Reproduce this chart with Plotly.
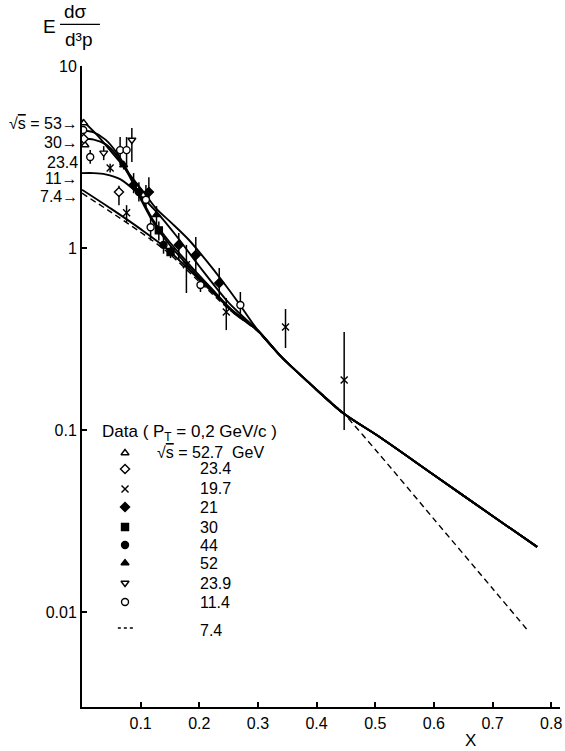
import plotly.graph_objects as go

# ---------------- theoretical curves ----------------
# common large-x tail shared by the solid curves
x_tail = [0.34, 0.39, 0.445, 0.51, 0.6, 0.7, 0.776]
y_tail = [0.252, 0.178, 0.124, 0.0904, 0.0566, 0.0337, 0.0228]

x_c53 = [0, 0.0255, 0.0476, 0.0646, 0.0816, 0.105, 0.127, 0.153, 0.182, 0.211, 0.238, 0.267, 0.297]
y_c53 = [5.05, 4.18, 3.45, 2.97, 2.52, 2.03, 1.64, 1.37, 1.11, 0.86, 0.667, 0.499, 0.363]

x_c30 = [0, 0.02, 0.04, 0.06, 0.08, 0.1, 0.12, 0.15, 0.18, 0.22, 0.26, 0.3]
y_c30 = [4.42, 4.32, 3.94, 3.31, 2.57, 1.905, 1.445, 1.072, 0.832, 0.603, 0.442, 0.351]

x_c234 = [0, 0.02, 0.04, 0.06, 0.08, 0.1, 0.12, 0.15, 0.18, 0.22, 0.26, 0.3]
y_c234 = [3.98, 3.94, 3.72, 3.2, 2.51, 1.86, 1.413, 1.035, 0.804, 0.589, 0.437, 0.351]

x_c11 = [0, 0.02, 0.04, 0.065, 0.093, 0.127, 0.16, 0.2, 0.25, 0.3]
y_c11 = [2.58, 2.58, 2.54, 2.39, 2.03, 1.58, 1.175, 0.794, 0.501, 0.351]

x_c74 = [0, 0.05, 0.1, 0.143, 0.2, 0.25, 0.3]
y_c74 = [2.09, 1.64, 1.27, 1.0, 0.671, 0.473, 0.351]

x_c74d = [0, 0.05, 0.1, 0.143, 0.2, 0.25, 0.3, 0.34, 0.39, 0.445, 0.505, 0.6, 0.7, 0.758]
y_c74d = [2.0, 1.57, 1.22, 0.966, 0.653, 0.462, 0.347, 0.251, 0.178, 0.124, 0.0748, 0.0324, 0.01346, 0.00807]

curve_labels = ["√<span style='text-decoration:overline'>s</span> = 53→", "30→", "23.4", "11→", "7.4→"]

# ---------------- data points ----------------
# each: x, y, upper end of error bar, lower end of error bar
d527_x = [0.003, 0.005]
d527_y = [4.86, 3.68]
d527_hi = [4.86, 3.68]
d527_lo = [4.86, 3.68]

d234_x = [0.003, 0.063]
d234_y = [3.98, 2.03]
d234_hi = [3.98, 2.2]
d234_lo = [3.98, 1.72]

d197_x = [0.048, 0.076, 0.178, 0.246, 0.347, 0.447]
d197_y = [2.75, 1.56, 0.81, 0.445, 0.368, 0.188]
d197_hi = [2.9, 1.72, 1.04, 0.531, 0.462, 0.346]
d197_lo = [2.6, 1.39, 0.566, 0.354, 0.282, 0.100]

d21_x = [0.088, 0.114, 0.165, 0.194, 0.234]
d21_y = [2.22, 2.03, 1.04, 0.915, 0.642]
d21_hi = [2.58, 2.45, 1.21, 1.15, 0.776]
d21_lo = [2.0, 1.77, 0.86, 0.74, 0.531]

d30_x = [0.131, 0.151]
d30_y = [1.25, 0.95]
d30_hi = [1.4, 1.02]
d30_lo = [1.1, 0.88]

d44_x = [0.097, 0.139]
d44_y = [2.03, 1.04]
d44_hi = [2.3, 1.15]
d44_lo = [1.8, 0.93]

d52_x = [0.071, 0.127]
d52_y = [2.86, 1.52]
d52_hi = [3.0, 1.7]
d52_lo = [2.7, 1.35]

d239_x = [0.037, 0.085]
d239_y = [3.33, 3.92]
d239_hi = [3.63, 4.56]
d239_lo = [3.04, 2.97]

d114_x = [0.002, 0.014, 0.065, 0.076, 0.109, 0.117, 0.202, 0.27]
d114_y = [4.45, 3.16, 3.45, 3.45, 1.84, 1.30, 0.626, 0.486]
d114_hi = [4.45, 3.45, 4.07, 4.07, 2.22, 1.52, 0.667, 0.573]
d114_lo = [4.45, 2.9, 2.86, 2.86, 1.68, 1.1, 0.573, 0.413]

legend_labels = ["√<span style='text-decoration:overline'>s</span> = 52.7  GeV", "23.4", "19.7", "21", "30", "44", "52", "23.9", "11.4", "7.4"]

x_ticks = [0.1, 0.2, 0.3, 0.4, 0.5, 0.6, 0.7, 0.8]
x_ticktext = ["0.1", "0.2", "0.3", "0.4", "0.5", "0.6", "0.7", "0.8"]
y_ticks = [0.01, 0.1, 1, 10]
y_ticktext = ["0.01", "0.1", "1", "10"]

# ---------------- figure ----------------
FONT = "Liberation Sans, Arial, sans-serif"
fig = go.Figure()

line_solid = dict(color="black", width=1.9, shape="spline", smoothing=0.8)
for xs, ys in [(x_c53, y_c53), (x_c30, y_c30), (x_c234, y_c234), (x_c11, y_c11), (x_c74, y_c74)]:
    fig.add_trace(go.Scatter(x=xs + x_tail, y=ys + y_tail, mode="lines", line=line_solid, hoverinfo="skip"))
fig.add_trace(go.Scatter(x=x_c74d, y=y_c74d, mode="lines",
                         line=dict(color="black", width=1.4, dash="6px,4px", shape="spline", smoothing=0.8),
                         hoverinfo="skip"))

series = [
    (d527_x, d527_y, d527_hi, d527_lo, "triangle-up", "white"),
    (d234_x, d234_y, d234_hi, d234_lo, "diamond", "white"),
    (d197_x, d197_y, d197_hi, d197_lo, "x-thin", "black"),
    (d21_x, d21_y, d21_hi, d21_lo, "diamond", "black"),
    (d30_x, d30_y, d30_hi, d30_lo, "square", "black"),
    (d44_x, d44_y, d44_hi, d44_lo, "circle", "black"),
    (d52_x, d52_y, d52_hi, d52_lo, "triangle-up", "black"),
    (d239_x, d239_y, d239_hi, d239_lo, "triangle-down", "white"),
    (d114_x, d114_y, d114_hi, d114_lo, "circle", "white"),
]
for xs, ys, hi, lo, sym, fill in series:
    fig.add_trace(go.Scatter(
        x=xs, y=ys, mode="markers",
        marker=dict(symbol=sym, size=7, color=fill, line=dict(color="black", width=1.4)),
        error_y=dict(type="data", symmetric=False,
                     array=[h - v for h, v in zip(hi, ys)],
                     arrayminus=[v - l for v, l in zip(ys, lo)],
                     color="black", thickness=1.5, width=0),
        hoverinfo="skip"))

# legend symbols on an overlay axis spanning the plot area
leg_x = 0.09
leg_rows = [0.3963, 0.3713, 0.3401, 0.312, 0.2808, 0.2527, 0.2246, 0.1934, 0.1638]
for (xs, ys, hi, lo, sym, fill), ry in zip(series, leg_rows):
    fig.add_trace(go.Scatter(
        x=[leg_x], y=[ry], xaxis="x2", yaxis="y2", mode="markers",
        marker=dict(symbol=sym, size=7, color=fill, line=dict(color="black", width=1.4)),
        hoverinfo="skip"))
fig.add_trace(go.Scatter(x=[0.075, 0.107], y=[0.1232, 0.1232], xaxis="x2", yaxis="y2", mode="lines",
                         line=dict(color="black", width=1.4, dash="3px,3px"), hoverinfo="skip"))

ann = []
# y-axis title as a fraction
ann.append(dict(text="E", x=-0.067, y=1.062))
ann.append(dict(text="dσ", x=-0.014, y=1.085))
ann.append(dict(text="d³p", x=-0.008, y=1.042))
for a in ann:
    a.update(xref="paper", yref="paper", showarrow=False, xanchor="center", yanchor="middle",
             font=dict(family=FONT, size=19, color="black"))

label_y = [0.911, 0.881, 0.850, 0.825, 0.796]
for t, yy in zip(curve_labels, label_y):
    ann.append(dict(text=t, x=-0.004, y=yy, xref="paper", yref="paper", showarrow=False,
                    xanchor="right", yanchor="middle", font=dict(family=FONT, size=16, color="black")))

ann.append(dict(text="Data ( P<sub>T</sub> = 0,2 GeV/c )", x=0.0375, y=0.4275, xref="paper", yref="paper",
                showarrow=False, xanchor="left", yanchor="middle", font=dict(family=FONT, size=17, color="black")))
leg_text_y = leg_rows + [0.1201]
for i, (t, yy) in enumerate(zip(legend_labels, leg_text_y)):
    ann.append(dict(text=t, x=0.152 if i == 0 else 0.2417, y=yy, xref="paper", yref="paper",
                    showarrow=False, xanchor="left", yanchor="middle",
                    font=dict(family=FONT, size=16, color="black")))
ann.append(dict(text="X", x=0.8125, y=-0.0515, xref="paper", yref="paper", showarrow=False,
                xanchor="center", yanchor="middle", font=dict(family=FONT, size=17, color="black")))

fig.update_layout(
    width=565, height=751,
    margin=dict(l=82, r=3, t=66, b=44),
    paper_bgcolor="white", plot_bgcolor="white",
    showlegend=False,
    font=dict(family=FONT, size=16, color="black"),
    xaxis=dict(range=[0, 0.815], tickvals=x_ticks, ticktext=x_ticktext, ticks="inside", ticklen=5,
               tickwidth=1.5, tickcolor="black", showline=True, linewidth=2, linecolor="black",
               showgrid=False, zeroline=False, ticklabelstandoff=1),
    yaxis=dict(type="log", range=[-2.522, 1.0], tickvals=y_ticks, ticktext=y_ticktext, ticks="inside",
               ticklen=5, tickwidth=1.5, tickcolor="black", showline=True, linewidth=2, linecolor="black",
               showgrid=False, zeroline=False, ticklabelstandoff=0),
    xaxis2=dict(overlaying="x", range=[0, 1], visible=False),
    yaxis2=dict(overlaying="y", range=[0, 1], visible=False),
    annotations=ann,
    shapes=[dict(type="line", xref="paper", yref="paper", x0=-0.046, x1=0.0375, y0=1.065, y1=1.065,
                 line=dict(color="black", width=1.3))],
)

fig.write_html("out.html", config={"displayModeBar": False},
               post_script="document.body.style.margin='0';")
